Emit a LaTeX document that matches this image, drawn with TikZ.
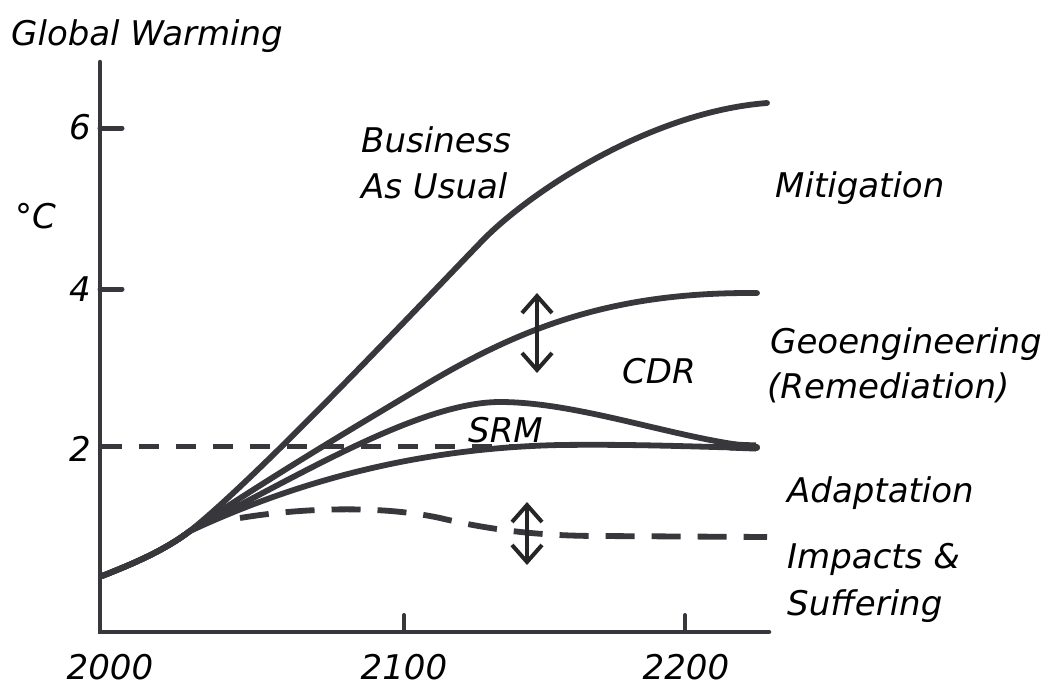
\documentclass[tikz,border=0pt]{standalone}
\usepackage{fontspec}
\setmainfont{DejaVu Sans}
\usetikzlibrary{arrows.meta}
\definecolor{ink}{RGB}{55,55,60}
\begin{document}
\begin{tikzpicture}[x=1pt,y=-1pt,
  curve/.style={draw=ink,line width=5.8pt,line cap=round,line join=round},
  dashcurve/.style={curve,line cap=butt,dash pattern=on 29pt off 17pt},
  twodash/.style={draw=ink,line width=5pt,dash pattern=on 20pt off 17pt},
  axisline/.style={draw=ink,line width=4.5pt,line cap=round},
  tickline/.style={draw=ink,line width=5pt,line cap=round},
  lbl/.style={inner sep=0pt,font=\fontsize{34}{40}\selectfont\itshape,text=black},
  twoarrow/.style={draw=black!85,line width=4pt,{Straight Barb[length=17pt,width=30pt]}-{Straight Barb[length=17pt,width=30pt]}}]
\useasboundingbox (0,0) rectangle (1043,688);
\fill[white] (0,0) rectangle (1043,688);

% axes
\coordinate (origin) at (100,632);
\coordinate (ytop) at (100,62);
\coordinate (xend) at (769,632);
\draw[axisline] (ytop) -- (origin) -- (xend);

% y ticks
\coordinate (t6a) at (100,128); \coordinate (t6b) at (122,128);
\coordinate (t4a) at (100,289); \coordinate (t4b) at (122,289);
\draw[tickline] (t6a) -- (t6b);
\draw[tickline] (t4a) -- (t4b);
% x ticks
\coordinate (x1a) at (404,632); \coordinate (x1b) at (404,615);
\coordinate (x2a) at (685,632); \coordinate (x2b) at (685,615);
\draw[tickline,line width=4pt] (x1a) -- (x1b);
\draw[tickline,line width=4pt] (x2a) -- (x2b);

% 2 degree dashed line
\coordinate (d2a) at (102,446); \coordinate (d2b) at (520,446);
\draw[twodash] (d2a) -- (d2b);

% shared start and merge point
\coordinate (s0) at (102,576);
\coordinate (m0) at (190,531);

% Business as usual
\draw[curve] (s0) .. controls (135,563) and (165,550) .. (m0)
  .. controls (260,475) and (420,305) .. (483,240)
  .. controls (530,192) and (650,112) .. (767,103);
% Mitigation (4 degrees)
\draw[curve] (s0) .. controls (135,563) and (165,550) .. (m0)
  .. controls (280,471) and (350,430) .. (430,382)
  .. controls (530,323) and (620,292) .. (757,293);
% SRM
\draw[curve] (s0) .. controls (135,563) and (165,550) .. (m0)
  .. controls (300,475) and (420,402) .. (500,402)
  .. controls (580,402) and (680,440) .. (757,447);
% CDR / 2 degrees
\draw[curve] (s0) .. controls (135,563) and (165,550) .. (m0)
  .. controls (300,480) and (420,448) .. (560,445)
  .. controls (640,444) and (700,447) .. (757,448);
% Impacts dashed
\coordinate (i0) at (240,518);
\coordinate (i1) at (767,537);
\draw[dashcurve] (i0) .. controls (300,508) and (380,505) .. (440,518)
  .. controls (490,530) and (540,536) .. (600,536) -- (i1);
\coordinate (blobA) at (730,446); \coordinate (blobB) at (756,447);
\draw[draw=ink,line width=9pt] (blobA) -- (blobB);

% arrows
\coordinate (a1t) at (537,293); \coordinate (a1b) at (537,373);
\draw[twoarrow] (a1t) -- (a1b);
\coordinate (a2t) at (527,502); \coordinate (a2b) at (527,565);
\draw[twoarrow] (a2t) -- (a2b);

% axis labels
\node[lbl,anchor=base west] (title) at (11,45) {Global Warming};
\node[lbl,anchor=base west] (unit) at (15,228) {°C};
\node[lbl,anchor=base east] (y6) at (91,139) {6};
\node[lbl,anchor=base east] (y4) at (91,301) {4};
\node[lbl,anchor=base east] (y2) at (91,461) {2};
\node[lbl,anchor=base] (x0) at (110,679) {2000};
\node[lbl,anchor=base] (x1) at (404,679) {2100};
\node[lbl,anchor=base] (x2) at (686,679) {2200};

% curve labels
\node[lbl,anchor=base west] (bau1) at (361,152) {Business};
\node[lbl,anchor=base west] (bau2) at (361,198) {As Usual};
\node[lbl,anchor=base west] (mit) at (775,197) {Mitigation};
\node[lbl,anchor=base west] (geo1) at (770,353) {Geoengineering};
\node[lbl,anchor=base west] (geo2) at (767,398) {(Remediation)};
\node[lbl,anchor=base west] (cdr) at (622,383) {CDR};
\node[lbl,anchor=base west] (srm) at (468,442) {SRM};
\node[lbl,anchor=base west] (adapt) at (787,502) {Adaptation};
\node[lbl,anchor=base west] (imp1) at (787,568) {Impacts \&};
\node[lbl,anchor=base west] (imp2) at (787,615) {Suffering};
\end{tikzpicture}
\end{document}
